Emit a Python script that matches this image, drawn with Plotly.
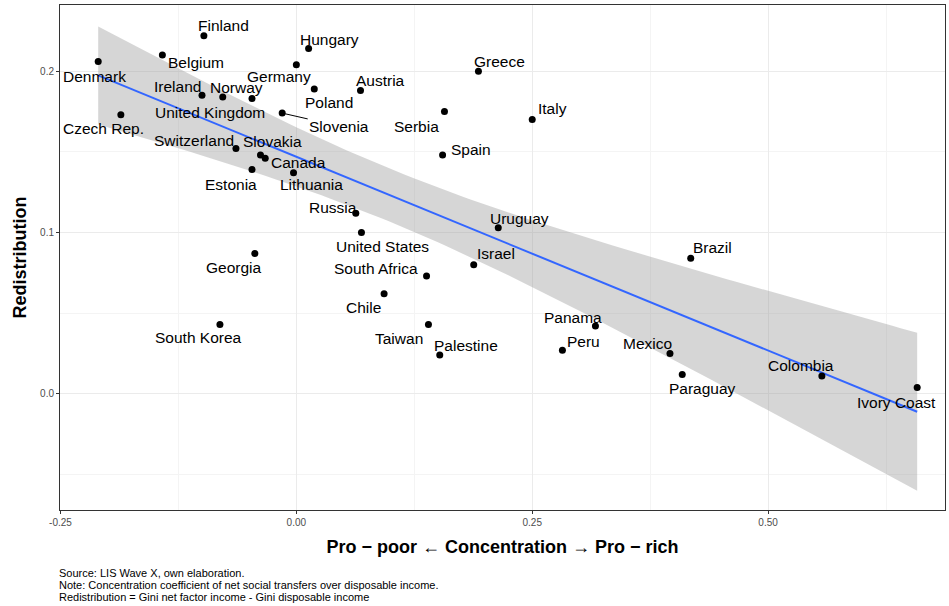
import numpy as np
import plotly.graph_objects as go

countries = ["Denmark","Finland","Belgium","Hungary","Germany","Greece","Ireland","Norway","United Kingdom","Poland","Austria","Czech Rep.","Slovenia","Serbia","Italy","Switzerland","Slovakia","Canada","Spain","Estonia","Lithuania","Russia","Uruguay","United States","Brazil","Georgia","South Africa","Israel","Chile","Panama","South Korea","Taiwan","Peru","Mexico","Palestine","Colombia","Paraguay","Ivory Coast"]
concentration = [-0.210,-0.098,-0.142,0.013,0.000,0.193,-0.100,-0.078,-0.047,0.019,0.068,-0.186,-0.015,0.157,0.250,-0.064,-0.038,-0.033,0.155,-0.047,-0.003,0.063,0.214,0.069,0.418,-0.044,0.138,0.188,0.093,0.317,-0.081,0.140,0.282,0.396,0.152,0.557,0.409,0.658]
redistribution = [0.206,0.222,0.210,0.214,0.204,0.200,0.185,0.184,0.183,0.189,0.188,0.173,0.174,0.175,0.170,0.152,0.148,0.146,0.148,0.139,0.137,0.112,0.103,0.100,0.084,0.087,0.073,0.080,0.062,0.042,0.043,0.043,0.027,0.025,0.024,0.011,0.012,0.004]
# label offsets in pixels (dx, dy downwards)
offsets = [(-4,15),(20,-10),(34,7),(21,-9),(-17,12),(21,-10),(-25,-9),(14,-9),(-42,14),(15,14),(20,-10),(-17,14),None,(-28,15),(20,-11),(-42,-8),(12,-14),(33,4),(28,-6),(-21,15),(18,12),(-23,-6),(21,-9),(21,14),(22,-11),(-21,14),(-51,-8),(22,-11),(-21,14),(-22,-9),(-21,13),(-29,14),(21,-9),(-22,-10),(26,-10),(-21,-11),(20,14),(-21,15)]

x = np.array(concentration); y = np.array(redistribution)
n = len(x)
b, a = np.polyfit(x, y, 1)
xs = np.linspace(x.min(), x.max(), 100)
ys = a + b*xs
resid = y - (a + b*x)
s = np.sqrt(np.sum(resid**2)/(n-2))
se = s*np.sqrt(1/n + (xs-x.mean())**2/np.sum((x-x.mean())**2))
t = 2.028
lo, hi = ys - t*se, ys + t*se

fig = go.Figure()
fig.add_trace(go.Scatter(x=np.concatenate([xs, xs[::-1]]), y=np.concatenate([hi, lo[::-1]]),
    fill="toself", fillcolor="rgba(153,153,153,0.4)", line=dict(width=0), hoverinfo="skip"))
fig.add_trace(go.Scatter(x=xs, y=ys, mode="lines", line=dict(color="#3366FF", width=2)))
fig.add_trace(go.Scatter(x=x, y=y, mode="markers", marker=dict(color="black", size=7)))

for c, xi, yi, off in zip(countries, concentration, redistribution, offsets):
    if off is None:
        fig.add_annotation(x=xi, y=yi, text=c, showarrow=True, arrowhead=0, arrowwidth=1,
                           arrowcolor="black", ax=57, ay=13, standoff=3,
                           font=dict(family="Liberation Sans", size=15.5, color="black"))
    else:
        fig.add_annotation(x=xi, y=yi, text=c, showarrow=False, xshift=off[0], yshift=-off[1],
                           font=dict(family="Liberation Sans", size=15.5, color="black"))

notes = ["Source: LIS Wave X, own elaboration.",
         "Note: Concentration coefficient of net social transfers over disposable income.",
         "Redistribution = Gini net factor income - Gini disposable income"]
for i, t_ in enumerate(notes):
    fig.add_annotation(xref="paper", yref="paper", x=-0.003, y=-0.125-0.024*i, text=t_,
                       showarrow=False, xanchor="left", yanchor="middle",
                       font=dict(family="Liberation Sans", size=11, color="black"))

fig.update_layout(
    width=949, height=606, showlegend=False, plot_bgcolor="white", paper_bgcolor="white",
    margin=dict(l=60, r=4, t=5, b=96),
    font=dict(family="Liberation Sans"),
    xaxis=dict(range=[-0.2505, 0.6875], tickvals=[-0.25,0,0.25,0.5], ticktext=["-0.25","0.00","0.25","0.50"],
               automargin=False,
               showgrid=True, gridcolor="#ebebeb", zeroline=False, showline=True, linecolor="#333333", mirror=True,
               ticks="outside", ticklen=3, tickcolor="#333333", tickfont=dict(size=10, color="#4d4d4d"),
               minor=dict(tickvals=[-0.125,0.125,0.375,0.625], showgrid=True, gridcolor="#f4f4f4"),
               title=dict(text="<b>Pro − poor ← Concentration → Pro − rich</b>", font=dict(size=18, color="black"), standoff=13)),
    yaxis=dict(range=[-0.072, 0.241], tickvals=[0,0.1,0.2], ticktext=["0.0","0.1","0.2"],
               automargin=False,
               showgrid=True, gridcolor="#ebebeb", zeroline=False, showline=True, linecolor="#333333", mirror=True,
               ticks="outside", ticklen=3, tickcolor="#333333", tickfont=dict(size=10, color="#4d4d4d"),
               minor=dict(tickvals=[-0.05,0.05,0.15], showgrid=True, gridcolor="#f4f4f4"),
               title=dict(text="<b>Redistribution</b>", font=dict(size=18, color="black"), standoff=8)),
)
fig.write_html("out.html", config={"displayModeBar": False},
               post_script="document.body.style.margin='0';document.body.style.overflow='hidden';")
